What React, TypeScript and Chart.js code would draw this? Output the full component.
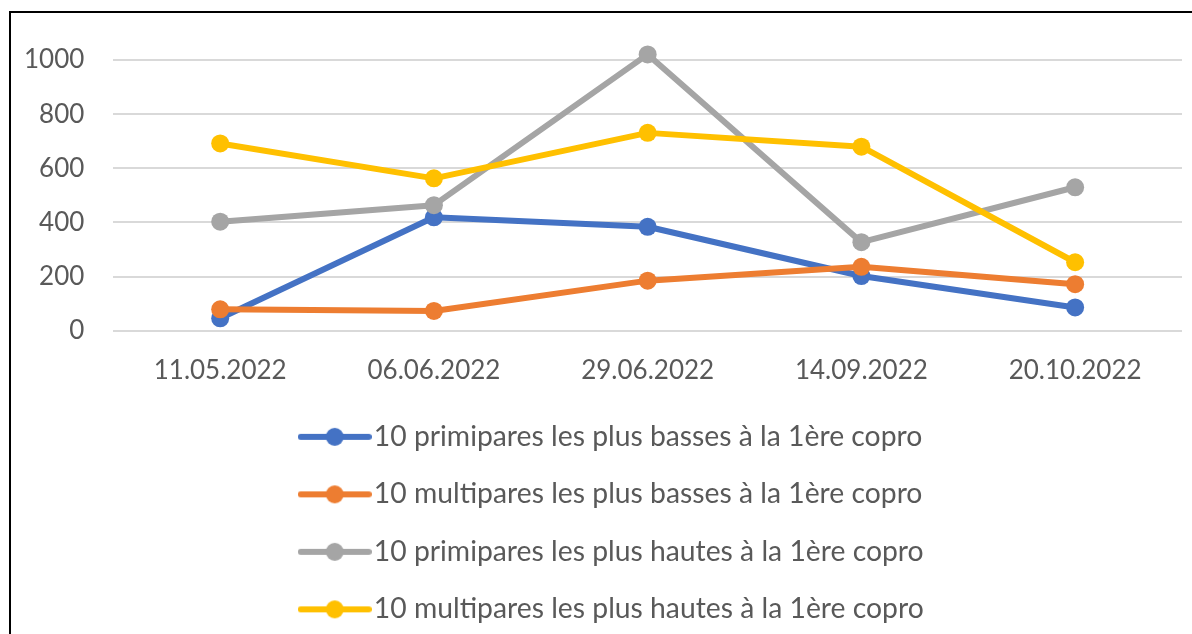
import React, { useEffect, useRef } from 'react';
import { Chart, registerables } from 'chart.js';

Chart.register(...registerables);

// ---- Data ----
const categories = ['11.05.2022', '06.06.2022', '29.06.2022', '14.09.2022', '20.10.2022'];
const seriesLabels = [
  '10 primipares les plus basses à la 1ère copro',
  '10 multipares les plus basses à la 1ère copro',
  '10 primipares les plus hautes à la 1ère copro',
  '10 multipares les plus hautes à la 1ère copro',
];
const primiparesBasses = [46, 419, 384, 202, 86];
const multiparesBasses = [79, 73, 185, 236, 172];
const primiparesHautes = [403, 464, 1021, 327, 530];
const multiparesHautes = [692, 563, 731, 680, 253];
const seriesValues = [primiparesBasses, multiparesBasses, primiparesHautes, multiparesHautes];
const seriesColors = ['#4472C4', '#ED7D31', '#A5A5A5', '#FFC000'];
const yTickValues = [0, 200, 400, 600, 800, 1000];
const yMin = 0;
const yMax = 1100;

// ---- Styling constants ----
const FONT_FAMILY = 'Lato';
const TEXT_COLOR = '#595959';
const GRID_COLOR = '#D9D9D9';
const LEGEND_FONT = 28.3;
const LEGEND_PAD = 57.5 - LEGEND_FONT;
const LEGEND_SYMBOL_W = 74;
const LEGEND_BOX_W = 50;
const LEGEND_LEFT = 269.5;

function makeLegendIcon(color: string): HTMLCanvasElement {
  const c = document.createElement('canvas');
  c.width = LEGEND_SYMBOL_W;
  c.height = 20;
  const ctx = c.getContext('2d')!;
  ctx.strokeStyle = color;
  ctx.fillStyle = color;
  ctx.lineWidth = 6;
  ctx.lineCap = 'round';
  ctx.beginPath();
  ctx.moveTo(3, 10);
  ctx.lineTo(LEGEND_SYMBOL_W - 3, 10);
  ctx.stroke();
  ctx.beginPath();
  ctx.arc(LEGEND_SYMBOL_W / 2, 10, 9, 0, Math.PI * 2);
  ctx.fill();
  return c;
}

const legendColumnPlugin = {
  id: 'legendColumn',
  afterInit(chart: any) {
    const legend = chart.legend;
    if (!legend) return;
    const origUpdate = legend.update.bind(legend);
    // one legend entry per row
    legend.update = (maxWidth: number, maxHeight: number, margins: any) =>
      origUpdate(Math.min(maxWidth, 1), maxHeight, margins);
  },
  afterLayout(chart: any) {
    const legend = chart.legend;
    if (!legend) return;
    legend.left = LEGEND_LEFT;
  },
};

export default function App() {
  const canvasRef = useRef<HTMLCanvasElement>(null);

  useEffect(() => {
    if (!canvasRef.current) return;
    const icons = seriesColors.map(makeLegendIcon);
    const chart = new Chart(canvasRef.current, {
      type: 'line',
      data: {
        labels: categories,
        datasets: seriesValues.map((values, i) => ({
          label: seriesLabels[i],
          data: values,
          borderColor: seriesColors[i],
          backgroundColor: seriesColors[i],
          pointBackgroundColor: seriesColors[i],
          pointBorderColor: seriesColors[i],
          borderWidth: 6,
          pointRadius: 9,
          pointBorderWidth: 0,
          pointHoverRadius: 9,
          borderCapStyle: 'round',
          borderJoinStyle: 'round',
          tension: 0,
          fill: false,
          order: seriesValues.length - i,
        })),
      },
      options: {
        responsive: false,
        animation: false,
        layout: { padding: { top: 20, left: 13, right: 10, bottom: 0.5 } },
        scales: {
          x: {
            offset: true,
            grid: {
              display: true,
              drawOnChartArea: false,
              drawTicks: true,
              tickLength: 17.8,
              tickColor: 'rgba(0,0,0,0)',
            },
            border: { display: false },
            ticks: {
              color: TEXT_COLOR,
              padding: 0,
              font: { family: FONT_FAMILY, size: 26, lineHeight: 1.73 },
              maxRotation: 0,
              autoSkip: false,
            },
          },
          y: {
            min: yMin,
            max: yMax,
            bounds: 'data',
            afterBuildTicks: (axis: any) => {
              axis.ticks = yTickValues.map((v) => ({ value: v }));
            },
            grid: {
              color: GRID_COLOR,
              lineWidth: 2,
              drawTicks: true,
              tickLength: 29,
              tickColor: 'rgba(0,0,0,0)',
            },
            border: { display: false },
            ticks: {
              color: TEXT_COLOR,
              padding: 0,
              font: { family: FONT_FAMILY, size: 26 },
              callback: (v: any) => String(v),
            },
          },
        },
        plugins: {
          tooltip: { enabled: false },
          legend: {
            position: 'bottom',
            align: 'start',
            labels: {
              usePointStyle: true,
              pointStyleWidth: LEGEND_BOX_W,
              padding: LEGEND_PAD,
              color: TEXT_COLOR,
              font: { family: FONT_FAMILY, size: LEGEND_FONT },
              sort: (a: any, b: any) => a.datasetIndex - b.datasetIndex,
              generateLabels: (c: any) => {
                const items = Chart.defaults.plugins.legend.labels.generateLabels(c);
                return items.map((it: any) => ({ ...it, pointStyle: icons[it.datasetIndex] }));
              },
            },
          },
        },
      },
      plugins: [legendColumnPlugin],
    } as any);
    return () => chart.destroy();
  }, []);

  return (
    <div
      style={{
        position: 'absolute',
        left: 9,
        top: 11,
        width: 1181,
        height: 621,
        borderLeft: '2px solid #000',
        borderTop: '2px solid #000',
        background: '#fff',
      }}
    >
      <canvas ref={canvasRef} width={1181} height={621} style={{ display: 'block' }} />
    </div>
  );
}
